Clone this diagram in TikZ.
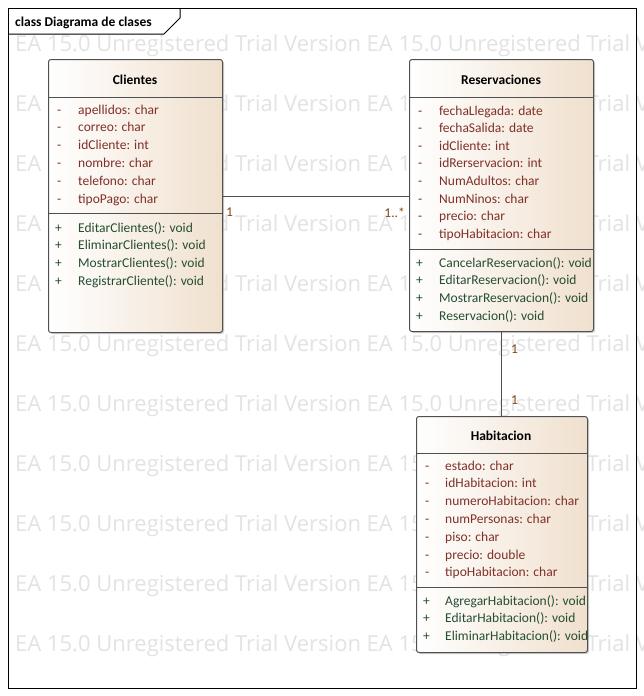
\documentclass[tikz,border=0pt]{standalone}
\usepackage{fontspec}
\setmainfont{Carlito}
\newfontfamily\marcafont{Open Sans}
\usetikzlibrary{shadows}
\definecolor{borde}{RGB}{80,80,80}
\definecolor{beige}{RGB}{240,224,206}
\definecolor{atributo}{RGB}{128,48,40}
\definecolor{metodo}{RGB}{36,78,48}
\definecolor{multi}{RGB}{130,70,20}
\tikzstyle{clase} = [rectangle, draw=borde, line width=1pt, rounded corners=2.5pt,
    left color=white, right color=beige, inner sep=0pt, anchor=north west,
    drop shadow={shadow xshift=1.5pt, shadow yshift=-1.5pt, fill=black!35, opacity=0.5}]
\tikzstyle{titulo} = [font=\fontsize{13.5}{15}\selectfont\bfseries, inner sep=0pt]
\tikzstyle{miembro} = [font=\fontsize{13.5}{15}\selectfont, inner sep=0pt, anchor=base west]
\tikzstyle{marca} = [font=\marcafont\fontsize{22}{24}\selectfont, text=black!11, inner sep=0pt, anchor=west]
\tikzstyle{line} = [draw=borde, line width=1pt]

\begin{document}
\begin{tikzpicture}[x=1pt, y=-1pt]
		\useasboundingbox [fill=white] (0,0) rectangle (644,696);
		% marca de agua
		\begin{scope}
			\clip (8,8) rectangle (644,688);
			\foreach \k in {0,...,10}
				\node [marca] (marca\k) at (15,46+60*\k) {EA 15.0 Unregistered Trial Version EA 15.0 Unregistered Trial Version};
		\end{scope}
		% marco
		\draw [line width=1pt] (8,8) rectangle (636,688);
		\draw [line width=1pt] (8,34) -- (164,34) -- (180,18) -- (180,8);
		\node [titulo, anchor=base west] (marco) at (15,26) {class Diagrama de clases};

		% Clientes
		\node [clase, minimum width=174pt, minimum height=273pt] (clientes) at (48,59) {};
		\draw [line] (48,97) -- (222,97);
		\draw [line] (48,213) -- (222,213);
		\node [titulo] (clientes-t) at (135,80) {Clientes};
		\foreach \t [count=\i] in {apellidos: char, correo: char, idCliente: int, nombre: char, telefono: char, tipoPago: char} {
			\node [miembro, text=atributo] (clientes-v\i) at (57,{114+17.9*(\i-1)}) {-};
			\node [miembro, text=atributo] (clientes-a\i) at (78,{114+17.9*(\i-1)}) {\t};
		}
		\foreach \t [count=\i] in {EditarClientes(): void, EliminarClientes(): void, MostrarClientes(): void, RegistrarCliente(): void} {
			\node [miembro, text=metodo] (clientes-p\i) at (55,{232+17.8*(\i-1)}) {+};
			\node [miembro, text=metodo] (clientes-m\i) at (78,{232+17.8*(\i-1)}) {\t};
		}

		% Reservaciones
		\node [clase, minimum width=184pt, minimum height=272pt] (reservaciones) at (409,59) {};
		\draw [line] (409,97) -- (593,97);
		\draw [line] (409,249) -- (593,249);
		\node [titulo] (reservaciones-t) at (501,80) {Reservaciones};
		\foreach \t [count=\i] in {fechaLlegada: date, fechaSalida: date, idCliente: int, idRerservacion: int, NumAdultos: char, NumNinos: char, precio: char, tipoHabitacion: char} {
			\node [miembro, text=atributo] (reservaciones-v\i) at (418,{115+17.6*(\i-1)}) {-};
			\node [miembro, text=atributo] (reservaciones-a\i) at (439,{115+17.6*(\i-1)}) {\t};
		}
		\foreach \t [count=\i] in {CancelarReservacion(): void, EditarReservacion(): void, MostrarReservacion(): void, Reservacion(): void} {
			\node [miembro, text=metodo] (reservaciones-p\i) at (416,{267+17.7*(\i-1)}) {+};
			\node [miembro, text=metodo] (reservaciones-m\i) at (439,{267+17.7*(\i-1)}) {\t};
		}

		% Habitacion
		\node [clase, minimum width=171pt, minimum height=236pt] (habitacion) at (416,416) {};
		\draw [line] (416,453) -- (587,453);
		\draw [line] (416,587) -- (587,587);
		\node [titulo] (habitacion-t) at (501,436) {Habitacion};
		\foreach \t [count=\i] in {estado: char, idHabitacion: int, numeroHabitacion: char, numPersonas: char, piso: char, precio: double, tipoHabitacion: char} {
			\node [miembro, text=atributo] (habitacion-v\i) at (425,{470+17.8*(\i-1)}) {-};
			\node [miembro, text=atributo] (habitacion-a\i) at (445,{470+17.8*(\i-1)}) {\t};
		}
		\foreach \t [count=\i] in {AgregarHabitacion(): void, EditarHabitacion(): void, EliminarHabitacion(): void} {
			\node [miembro, text=metodo] (habitacion-p\i) at (423,{605+17.9*(\i-1)}) {+};
			\node [miembro, text=metodo] (habitacion-m\i) at (445,{605+17.9*(\i-1)}) {\t};
		}

		% asociaciones
		\path [line] (clientes) -- (clientes -| reservaciones.west);
		\path [line] (reservaciones) -- (reservaciones |- habitacion.north);
		\node [miembro, text=multi] (m1) at (226,216) {1};
		\node [miembro, text=multi, anchor=base east] (m2) at (405,217) {1..*};
		\node [miembro, text=multi] (m3) at (511,353) {1};
		\node [miembro, text=multi] (m4) at (511,404) {1};
\end{tikzpicture}
\end{document}
